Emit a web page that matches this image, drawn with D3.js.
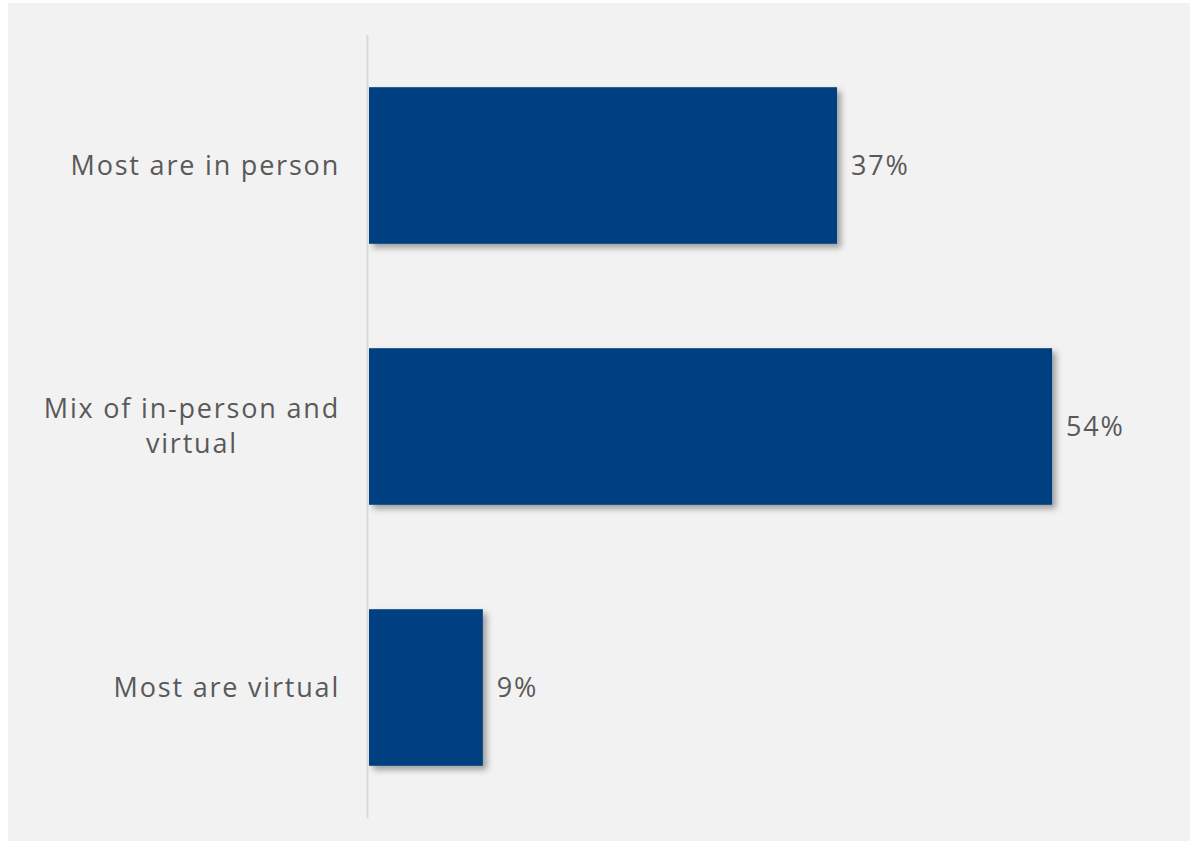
<!DOCTYPE html>
<html>
<head>
<meta charset="utf-8">
<script src="https://cdn.jsdelivr.net/npm/d3@7"></script>
<style>
  html, body { margin: 0; padding: 0; background: #ffffff; }
  svg { display: block; }
  text { font-family: "Open Sans", "Noto Sans", sans-serif; fill: #595959; letter-spacing: 1.8px; }
</style>
</head>
<body>
<svg id="chart" width="1192" height="842"></svg>
<script>
// Survey answers: how meetings are held
const categories = [["Most are in person"], ["Mix of in-person and", "virtual"], ["Most are virtual"]];
const values = [37, 54, 9];
const valueLabels = ["37%", "54%", "9%"];

const W = 1192, H = 842;
const svg = d3.select("#chart");

// panel background
svg.append("rect")
  .attr("x", 8).attr("y", 3)
  .attr("width", 1182).attr("height", 838)
  .attr("fill", "#f2f2f2");

// soft drop shadow under the bars
const defs = svg.append("defs");
const f = defs.append("filter").attr("id", "shadow")
  .attr("x", "-10%").attr("y", "-10%").attr("width", "130%").attr("height", "130%");
f.append("feDropShadow")
  .attr("dx", 4).attr("dy", 4).attr("stdDeviation", 3)
  .attr("flood-color", "#000").attr("flood-opacity", 0.35);

const x0 = 369;
const x = d3.scaleLinear().domain([0, 100]).range([x0, x0 + 1265]);
const y = d3.scaleBand()
  .domain(d3.range(categories.length))
  .range([35, 818])
  .paddingInner(0.4)
  .paddingOuter(0.2);

// bars
svg.append("g").selectAll("rect")
  .data(values)
  .join("rect")
  .attr("x", x(0))
  .attr("y", (d, i) => y(i))
  .attr("width", d => x(d) - x(0))
  .attr("height", y.bandwidth())
  .attr("fill", "#004080")
  .attr("filter", "url(#shadow)");

// vertical category axis line
svg.append("line")
  .attr("x1", x0 - 1.5).attr("x2", x0 - 1.5)
  .attr("y1", 35).attr("y2", 818)
  .attr("stroke", "#d9d9d9").attr("stroke-width", 2);

// value labels
svg.append("g").selectAll("text")
  .data(values)
  .join("text")
  .attr("x", d => x(d) + 14)
  .attr("y", (d, i) => y(i) + y.bandwidth() / 2)
  .attr("dy", "0.35em")
  .attr("font-size", 27)
  .text((d, i) => valueLabels[i]);

// category labels, right aligned to the axis, wrapped lines centred
const lh = 35;
const cat = svg.append("g").selectAll("text")
  .data(categories)
  .join("text")
  .attr("text-anchor", "middle")
  .attr("font-size", 27)
  .attr("y", (d, i) => y(i) + y.bandwidth() / 2 - (d.length - 1) * lh / 2);

cat.each(function(lines) {
  const t = d3.select(this);
  lines.forEach((ln, k) => {
    t.append("tspan").attr("dy", k === 0 ? "0.35em" : lh).text(ln);
  });
  const tsp = t.selectAll("tspan").nodes();
  const maxW = d3.max(tsp.map(n => n.getComputedTextLength()));
  const cx = 340 - maxW / 2;
  tsp.forEach(n => d3.select(n).attr("x", cx));
});
</script>
</body>
</html>
